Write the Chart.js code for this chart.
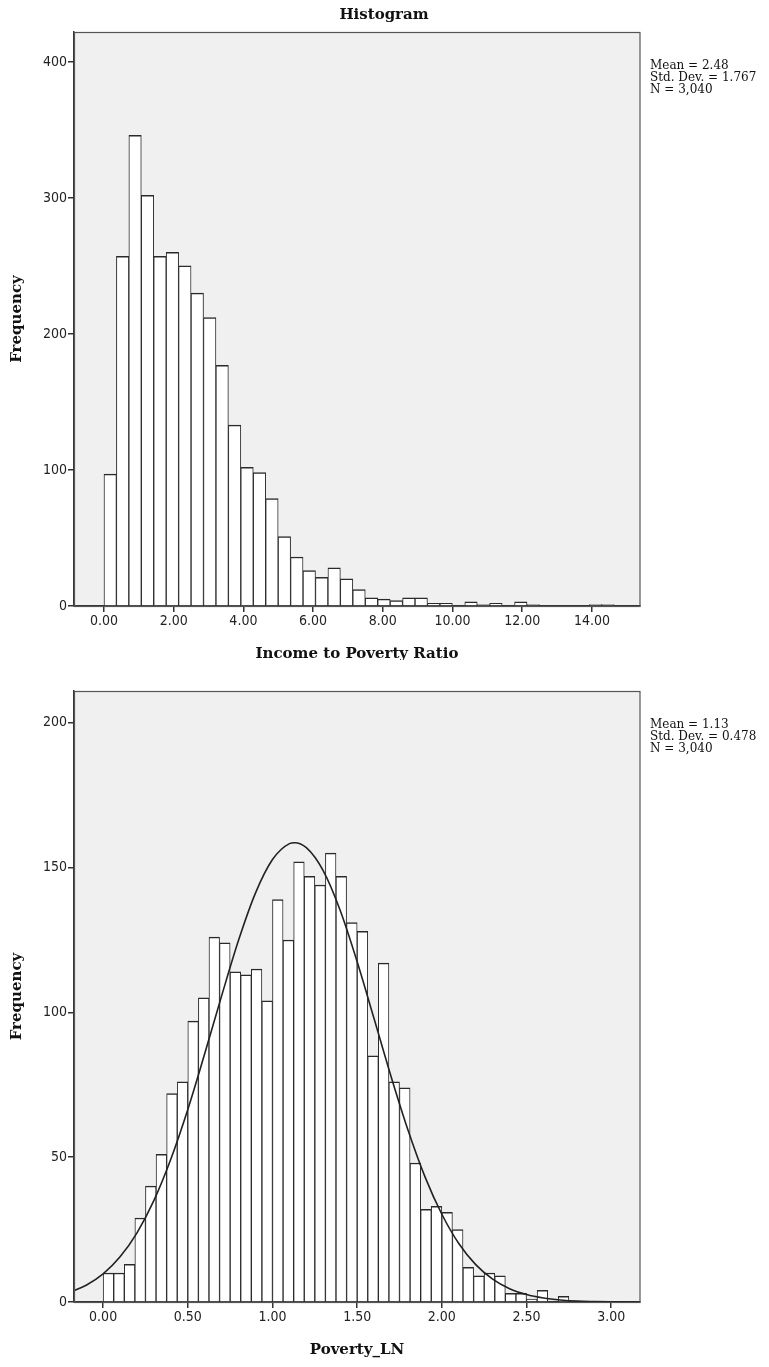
<!DOCTYPE html>
<html>
<head>
<meta charset="utf-8">
<script src="https://cdn.jsdelivr.net/npm/chart.js@4/dist/chart.umd.min.js"></script>
<style>
  body { margin: 0; background: #fff; width: 769px; height: 1367px; overflow: hidden; }
  canvas { position: absolute; left: 0; }
</style>
</head>
<body>
<canvas id="ratioChart" width="769" height="660" style="top:0"></canvas>
<canvas id="lnChart" width="769" height="707" style="top:660px"></canvas>
<script>
// Income to Poverty Ratio histogram (bins start at 0)
const ratioBinStart = 0;
const ratioBinWidth = 0.357;
const ratioCounts = [97, 257, 346, 302, 257, 260, 250, 230, 212, 177,
  133, 102, 98, 79, 51, 36, 26, 21, 28, 20,
  12, 6, 5, 4, 6, 6, 2, 2, 0, 3,
  1, 2, 0, 3, 1, 0, 0, 0, 0, 1, 1];
const ratioXTicks = [0, 2, 4, 6, 8, 10, 12, 14];
const ratioYTicks = [0, 100, 200, 300, 400];
const ratioStats = ['Mean = 2.48', 'Std. Dev. = 1.767', 'N = 3,040'];

// Poverty_LN histogram with normal curve
const lnBinStart = 0;
const lnBinWidth = 0.0625;
const lnCounts = [10, 10, 13, 29, 40, 51, 72, 76, 97, 105,
  126, 124, 114, 113, 115, 104, 139, 125, 152, 147,
  144, 155, 147, 131, 128, 85, 117, 76, 74, 48,
  32, 33, 31, 25, 12, 9, 10, 9, 3, 3,
  1, 4, 0, 2];
const curveX = [-0.2, -0.1, 0, 0.1, 0.2, 0.3, 0.4, 0.5, 0.6, 0.7, 0.8, 0.9, 1.0, 1.1, 1.13,
  1.2, 1.3, 1.4, 1.5, 1.6, 1.7, 1.8, 1.9, 2.0, 2.1, 2.2, 2.3, 2.4, 2.5, 2.6, 2.7, 2.8, 2.9, 3.0, 3.1, 3.2];
const curveY = [3.3, 5.8, 9.7, 15.6, 23.9, 35.1, 49.4, 66.5, 85.8, 105.8, 125.0, 141.3, 152.8, 158.3, 158.6,
  156.9, 148.9, 135.2, 117.5, 97.8, 77.9, 59.4, 43.3, 30.3, 20.2, 12.9, 7.9, 4.6, 2.6, 1.4, 0.7, 0.3, 0.15, 0.06, 0.02, 0.01];
const lnXTicks = [0, 0.5, 1, 1.5, 2, 2.5, 3];
const lnYTicks = [0, 50, 100, 150, 200];
const lnStats = ['Mean = 1.13', 'Std. Dev. = 0.478', 'N = 3,040'];

const tickFont = { family: '"DejaVu Sans Condensed", "DejaVu Sans", sans-serif', size: 14 };
const inkColor = '#222';
const lineColor = '#333';

// grey plot area, frame and the SPSS-style text around it
const frame = {
  id: 'frame',
  beforeDraw(chart) {
    const { ctx, chartArea: a } = chart;
    ctx.save();
    ctx.fillStyle = '#f0f0f0';
    ctx.fillRect(a.left, a.top, a.right - a.left, a.bottom - a.top);
    ctx.restore();
  },
  afterDraw(chart, args, opts) {
    const { ctx, chartArea: a } = chart;
    ctx.save();
    ctx.strokeStyle = '#555';
    ctx.lineWidth = 1.2;
    ctx.strokeRect(a.left + 0.5, a.top + 0.5, a.right - a.left - 0.5, a.bottom - a.top);
    ctx.fillStyle = '#111';
    const mid = (a.left + a.right) / 2;
    ctx.font = 'bold 15px "DejaVu Serif", serif';
    ctx.textAlign = 'center';
    ctx.textBaseline = 'middle';
    if (opts.title) {
      ctx.fillText(opts.title, opts.titleX, 15);
    }
    ctx.fillText(opts.xTitle, mid, a.bottom + 48);
    ctx.save();
    ctx.translate(17, (a.top + a.bottom) / 2);
    ctx.rotate(-Math.PI / 2);
    ctx.fillText('Frequency', 0, 0);
    ctx.restore();
    ctx.font = '12px "DejaVu Serif", serif';
    ctx.textAlign = 'left';
    ctx.textBaseline = 'top';
    opts.stats.forEach((s, i) => ctx.fillText(s, a.right + 10, a.top + 28 + i * 12));
    ctx.restore();
  }
};

function axes(xMin, xMax, xTicks, yMax, yTicks, xDigits, xHeight) {
  return {
    x: {
      type: 'linear', min: xMin, max: xMax, offset: false,
      afterBuildTicks: s => { s.ticks = xTicks.map(v => ({ value: v })); },
      afterFit: s => { s.height = xHeight; },
      grid: { offset: false, drawOnChartArea: false, tickLength: 6, color: lineColor, lineWidth: 1.5 },
      border: { color: lineColor, width: 1.5 },
      ticks: { callback: v => v.toFixed(xDigits), font: tickFont, color: inkColor, padding: 1, maxRotation: 0, autoSkip: false }
    },
    y: {
      min: 0, max: yMax,
      afterBuildTicks: s => { s.ticks = yTicks.map(v => ({ value: v })); },
      afterFit: s => { s.width = 74; },
      grid: { drawOnChartArea: false, tickLength: 6, color: lineColor, lineWidth: 1.5 },
      border: { color: lineColor, width: 1.5 },
      ticks: { font: tickFont, color: inkColor, padding: 1 }
    }
  };
}

const barStyle = {
  backgroundColor: '#ffffff',
  borderColor: '#2a2a2a',
  borderWidth: { top: 1.5, left: 1, right: 1, bottom: 0 },
  barPercentage: 1,
  categoryPercentage: 1
};

new Chart(document.getElementById('ratioChart'), {
  type: 'bar',
  data: {
    datasets: [Object.assign({
      data: ratioCounts.map((c, i) => ({ x: ratioBinStart + (i + 0.5) * ratioBinWidth, y: c }))
    }, barStyle)]
  },
  options: {
    responsive: false,
    animation: false,
    layout: { padding: { top: 32, right: 129, left: 0, bottom: 0 } },
    plugins: {
      legend: { display: false },
      tooltip: { enabled: false },
      frame: { title: 'Histogram', titleX: 384, xTitle: 'Income to Poverty Ratio', stats: ratioStats }
    },
    scales: axes(-0.86, 15.38, ratioXTicks, 422, ratioYTicks, 2, 54)
  },
  plugins: [frame]
});

new Chart(document.getElementById('lnChart'), {
  type: 'bar',
  data: {
    datasets: [
      {
        type: 'line',
        data: curveX.map((x, i) => ({ x: x, y: curveY[i] })),
        borderColor: '#222',
        borderWidth: 1.6,
        pointRadius: 0,
        fill: false,
        cubicInterpolationMode: 'monotone',
        order: 0
      },
      Object.assign({
        data: lnCounts.map((c, i) => ({ x: lnBinStart + (i + 0.5) * lnBinWidth, y: c })),
        order: 1
      }, barStyle)
    ]
  },
  options: {
    responsive: false,
    animation: false,
    layout: { padding: { top: 31, right: 129, left: 0, bottom: 0 } },
    plugins: {
      legend: { display: false },
      tooltip: { enabled: false },
      frame: { xTitle: 'Poverty_LN', stats: lnStats }
    },
    scales: axes(-0.172, 3.17, lnXTicks, 211, lnYTicks, 2, 65)
  },
  plugins: [frame]
});
</script>
</body>
</html>
